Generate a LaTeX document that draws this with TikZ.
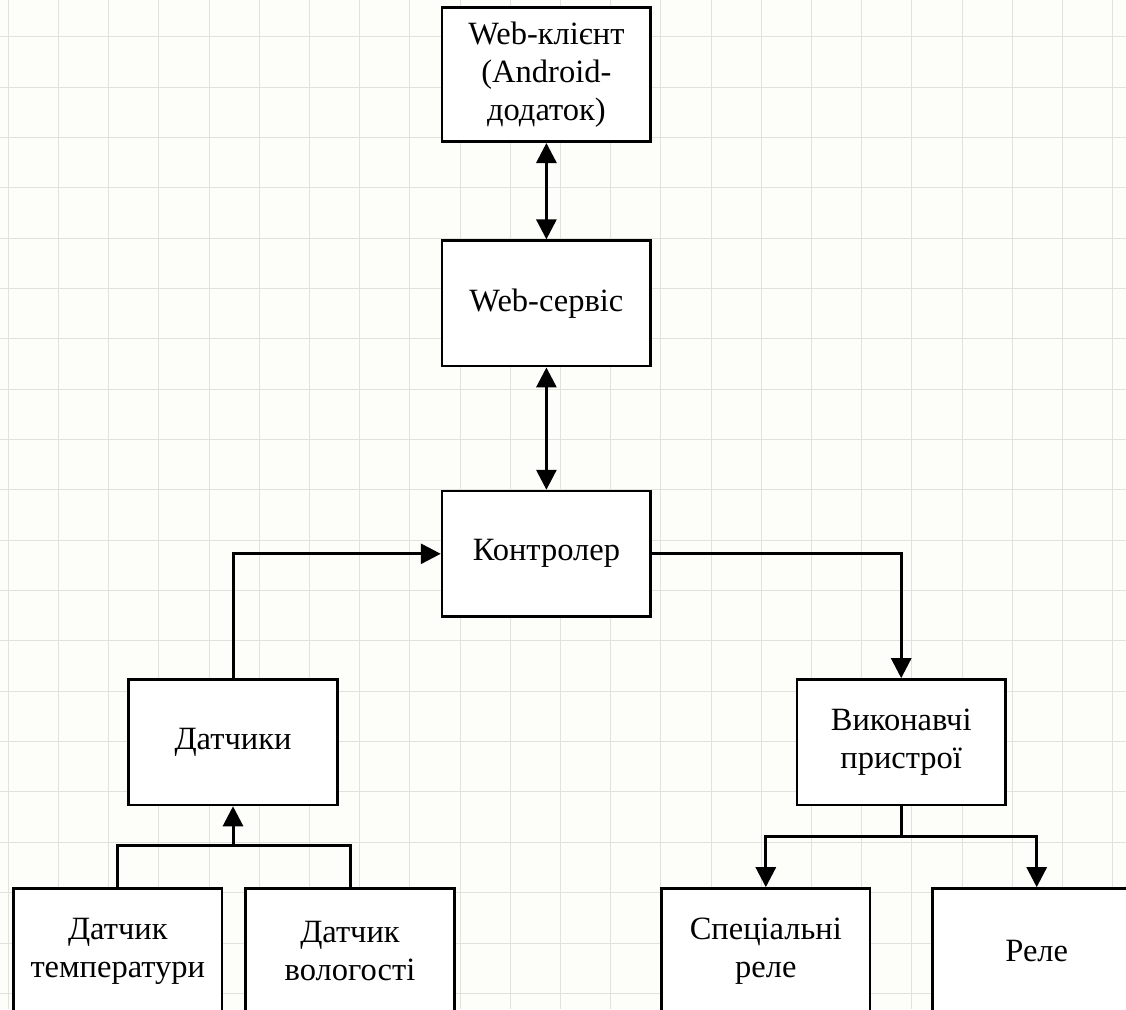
\documentclass[tikz,border=0pt]{standalone}
\usepackage{fontspec}
\setmainfont{Liberation Serif}
\usetikzlibrary{arrows.meta}
\definecolor{paper}{HTML}{FDFDF9}
\definecolor{gridc}{HTML}{E2E2DC}
\begin{document}
\begin{tikzpicture}[x=1pt, y=-1pt,
		block/.style={draw, line width=2.6pt, fill=white, minimum width=208.7pt, minimum height=125.5pt, align=center, inner sep=0pt, font=\fontsize{32.5}{38}\selectfont},
		link/.style={line width=3pt},
		arr/.style={link, -{Triangle[length=20pt, width=20pt]}},
		biarr/.style={link, {Triangle[length=20pt, width=20pt]}-{Triangle[length=20pt, width=20pt]}}]

		% Sheet and grid
		\clip (0,0) rectangle (1126,1009);
		\fill[paper] (0,0) rectangle (1126,1009);
		\foreach \gx in {0,...,22}
			\draw[gridc, line width=1pt] (8.3+\gx*50.2,0) -- (8.3+\gx*50.2,1009);
		\foreach \gy in {0,...,19}
			\draw[gridc, line width=1pt] (0,36.7+\gy*50.35) -- (1126,36.7+\gy*50.35);

		% Upper chain
		\node[block, minimum height=134.4pt] (client) at (546.4,74.5) {Web-клієнт\\(Android-\\додаток)};
		\node[block] (service) at (546.4,303.4) {Web-сервіс};
		\node[block] (controller) at (546.4,553.8) {Контролер};

		% Sensors side
		\node[block] (sensors) at (233,742.2) {Датчики};
		\node[block] (temp) at (117.8,951.2) {Датчик\\температури};
		\node[block] (humid) at (350,951.2) {Датчик\\вологості};

		% Actuators side
		\node[block] (actuators) at (901.2,742.2) {Виконавчі\\пристрої};
		\node[block] (special) at (765.8,951.2) {Спеціальні\\реле};
		\node[block] (relay) at (1036.7,951.2) {Реле};

		% Connectors
		\draw[biarr] (client) -- (service);
		\draw[biarr] (service) -- (controller);
		\draw[arr] (sensors.north) |- (controller.west);
		\draw[arr] (controller.east) -| (actuators.north);

		\coordinate (sjoin) at (233,845.7);
		\draw[link] (temp.north) |- (sjoin) -| (humid.north);
		\draw[arr] (sjoin) -- (sensors.south);

		\coordinate (ajoin) at (901.2,836);
		\draw[link] (actuators.south) -- (ajoin);
		\draw[arr] (ajoin) -| (special.north);
		\draw[arr] (ajoin) -| (relay.north);

	\end{tikzpicture}
\end{document}
